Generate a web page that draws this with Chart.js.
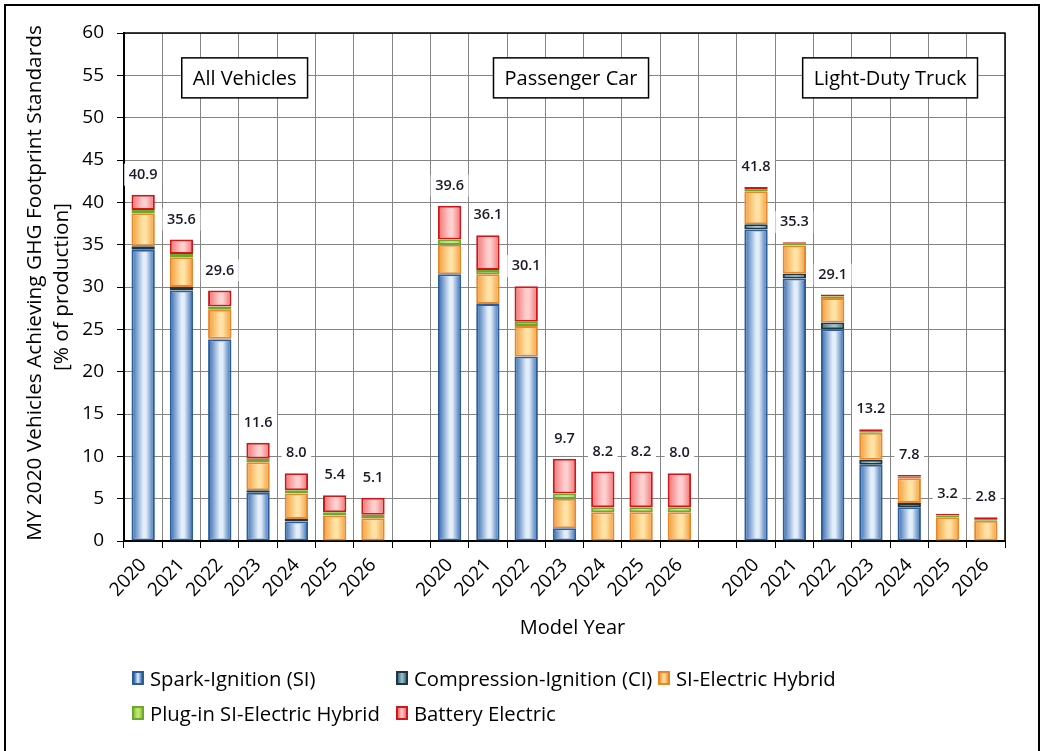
<!DOCTYPE html>
<html>
<head>
<meta charset="utf-8">
<script src="https://cdn.jsdelivr.net/npm/chart.js@4/dist/chart.umd.min.js"></script>
<style>
  html, body { margin: 0; padding: 0; background: #fff; }
  #wrap { position: relative; width: 1045px; height: 751px; overflow: hidden; }
  #frame { position: absolute; left: 4px; top: 4px; width: 1036px; height: 760px; border: 2px solid #000; box-sizing: border-box; pointer-events: none; }
  canvas { position: absolute; left: 0; top: 0; }
  #legend { position: absolute; left: 0; top: 0; width: 1045px; height: 751px; pointer-events: none;
            font-family: "Open Sans", sans-serif; font-size: 20.3px; color: #000; }
  .item { position: absolute; display: flex; align-items: center; white-space: nowrap; height: 24px; }
  .box { width: 8px; height: 10px; border: 2px solid; margin-right: 6px; box-sizing: content-box; }
</style>
</head>
<body>
<div id="wrap">
  <canvas id="c" width="1045" height="751"></canvas>
  <div id="legend"></div>
  <div id="frame"></div>
</div>
<script>
// ---- data ----
const categories = ['2020','2021','2022','2023','2024','2025','2026','',
                    '2020','2021','2022','2023','2024','2025','2026','',
                    '2020','2021','2022','2023','2024','2025','2026'];
const groupNames = ['All Vehicles', 'Passenger Car', 'Light-Duty Truck'];
const seriesNames = ['Spark-Ignition (SI)', 'Compression-Ignition (CI)', 'SI-Electric Hybrid',
                     'Plug-in SI-Electric Hybrid', 'Battery Electric'];
const siValues   = [34.4, 29.6, 23.8, 5.7, 2.3, 0, 0, null, 31.5, 28.0, 21.8, 1.5, 0, 0, 0, null, 36.8, 31.0, 25.0, 9.0, 4.0, 0, 0];
const ciValues   = [0.4, 0.4, 0.1, 0.3, 0.3, 0, 0, null, 0, 0, 0, 0, 0, 0, 0, null, 0.6, 0.6, 0.8, 0.6, 0.5, 0, 0];
const hevValues  = [3.9, 3.5, 3.4, 3.3, 3.0, 3.0, 2.7, null, 3.5, 3.5, 3.6, 3.5, 3.4, 3.4, 3.4, null, 3.9, 3.3, 2.9, 3.2, 2.9, 2.8, 2.4];
const phevValues = [0.4, 0.4, 0.4, 0.4, 0.4, 0.4, 0.4, null, 0.6, 0.5, 0.5, 0.6, 0.6, 0.6, 0.6, null, 0.2, 0.2, 0.2, 0.2, 0.2, 0.2, 0.2];
const bevValues  = [1.8, 1.7, 1.9, 1.9, 2.0, 2.0, 2.0, null, 4.0, 4.1, 4.2, 4.1, 4.2, 4.2, 4.0, null, 0.3, 0.2, 0.2, 0.2, 0.2, 0.2, 0.2];
const totalLabels = ['40.9','35.6','29.6','11.6','8.0','5.4','5.1', null,
                     '39.6','36.1','30.1','9.7','8.2','8.2','8.0', null,
                     '41.8','35.3','29.1','13.2','7.8','3.2','2.8'];
const yTicks = [0, 5, 10, 15, 20, 25, 30, 35, 40, 45, 50, 55, 60];

// ---- styles ----
const FONT = '"Open Sans", sans-serif';
const BAR_FRACTION = 0.61;
const styles = [
  { edge: '#2f66ad', mid: '#e3eefa', border: '#2b5d9c' },
  { edge: '#3d6f80', mid: '#9cc3cf', border: '#1f3540' },
  { edge: '#f29b38', mid: '#ffe3a6', border: '#e8862a' },
  { edge: '#8cc63f', mid: '#c8ec7e', border: '#6ea82b' },
  { edge: '#ef6f6f', mid: '#ffcfcf', border: '#d0161b' }
];
const seriesValues = [siValues, ciValues, hevValues, phevValues, bevValues];

function gradientFor(ctx, st) {
  const chart = ctx.chart;
  const area = chart.chartArea;
  if (!area || !chart.scales.x) return st.edge;
  const xs = chart.scales.x;
  const cx = xs.getPixelForValue(ctx.dataIndex);
  const w = area.width / categories.length * BAR_FRACTION;
  const g = chart.ctx.createLinearGradient(cx - w / 2, 0, cx + w / 2, 0);
  g.addColorStop(0, st.edge);
  g.addColorStop(0.5, st.mid);
  g.addColorStop(0.62, st.mid);
  g.addColorStop(1, st.edge);
  return g;
}

const datasets = seriesNames.map((name, i) => ({
  label: name,
  data: seriesValues[i],
  backgroundColor: ctx => gradientFor(ctx, styles[i]),
  borderColor: styles[i].border,
  borderWidth: ctx => (ctx.raw && ctx.raw > 0 ? 2 : 0),
  borderSkipped: false,
  barPercentage: BAR_FRACTION,
  categoryPercentage: 1.0
}));

// ---- plugins ----
const framePlugin = {
  id: 'frameAndText',
  afterDatasetsDraw(chart) {
    const { ctx, chartArea: a, scales } = chart;
    const xs = scales.x, ys = scales.y;
    ctx.save();
    // plot frame top/right
    ctx.strokeStyle = '#000';
    ctx.lineWidth = 1.5;
    ctx.beginPath();
    ctx.moveTo(a.left, a.top); ctx.lineTo(a.right, a.top); ctx.lineTo(a.right, a.bottom);
    ctx.stroke();

    // total labels
    ctx.font = '600 14.5px ' + FONT;
    ctx.textAlign = 'center';
    ctx.textBaseline = 'middle';
    totalLabels.forEach((lab, i) => {
      if (!lab) return;
      let sum = 0;
      seriesValues.forEach(s => { sum += s[i] || 0; });
      const x = xs.getPixelForValue(i);
      const y = ys.getPixelForValue(sum) - 20;
      const w = ctx.measureText(lab).width + 9;
      ctx.fillStyle = '#fff';
      ctx.fillRect(x - w / 2, y - 11, w, 22);
      ctx.fillStyle = '#1a1a2a';
      ctx.fillText(lab, x, y);
    });

    // group boxes
    const groupCenters = [2.65, 11.17, 19.5];
    ctx.font = '20px ' + FONT;
    groupNames.forEach((g, k) => {
      const step = xs.getPixelForValue(1) - xs.getPixelForValue(0);
      const cx = xs.getPixelForValue(0) + groupCenters[k] * step;
      const cy = ys.getPixelForValue(54.7);
      const w = ctx.measureText(g).width + 22;
      const h = 40;
      ctx.fillStyle = '#fff';
      ctx.fillRect(cx - w / 2, cy - h / 2, w, h);
      ctx.strokeStyle = '#000';
      ctx.lineWidth = 1.5;
      ctx.strokeRect(cx - w / 2, cy - h / 2, w, h);
      ctx.fillStyle = '#000';
      ctx.fillText(g, cx, cy + 1);
    });

    // axis titles
    ctx.fillStyle = '#000';
    ctx.font = '20px ' + FONT;
    ctx.fillText('Model Year', (a.left + a.right) / 2 + 8, 628);
    ctx.translate(0, (a.top + a.bottom) / 2);
    ctx.rotate(-Math.PI / 2);
    ctx.font = '20.8px ' + FONT;
    ctx.fillText('MY 2020 Vehicles Achieving GHG Footprint Standards', 4, 35);
    ctx.fillText('[% of production]', 0, 62);
    ctx.restore();
  }
};

const chart = new Chart(document.getElementById('c'), {
  type: 'bar',
  data: { labels: categories, datasets },
  options: {
    responsive: false,
    animation: false,
    devicePixelRatio: 1,
    layout: { padding: { left: 0, top: 33, right: 40, bottom: 0 } },
    plugins: { legend: { display: false }, tooltip: { enabled: false } },
    scales: {
      x: {
        stacked: true,
        afterFit: s => { s.height = 210; },
        grid: { color: '#858585', lineWidth: 1, offset: true, tickLength: 7, tickColor: '#000' },
        border: { color: '#000', width: 2 },
        ticks: { color: '#000', font: { family: FONT, size: 19 }, minRotation: 47, maxRotation: 47, autoSkip: false, padding: 6 }
      },
      y: {
        stacked: true,
        min: 0, max: 60,
        afterFit: s => { s.width = 124; },
        afterBuildTicks: s => { s.ticks = yTicks.map(v => ({ value: v })); },
        grid: { color: '#858585', lineWidth: 1, tickLength: 7, tickColor: '#000' },
        border: { color: '#000', width: 2 },
        ticks: { color: '#000', font: { family: FONT, size: 19 }, padding: 13 }
      }
    }
  },
  plugins: [framePlugin]
});

// ---- legend (HTML) ----
const legendPos = [[132, 678], [396, 678], [658, 678], [132, 713], [396, 713]];
const legend = document.getElementById('legend');
seriesNames.forEach((name, i) => {
  const it = document.createElement('div');
  it.className = 'item';
  it.style.left = legendPos[i][0] + 'px';
  it.style.top = (legendPos[i][1] - 12) + 'px';
  const b = document.createElement('div');
  b.className = 'box';
  b.style.borderColor = styles[i].border;
  b.style.background = `linear-gradient(90deg, ${styles[i].edge}, ${styles[i].mid}, ${styles[i].edge})`;
  const t = document.createElement('span');
  t.textContent = name;
  it.appendChild(b); it.appendChild(t);
  legend.appendChild(it);
});
</script>
</body>
</html>
